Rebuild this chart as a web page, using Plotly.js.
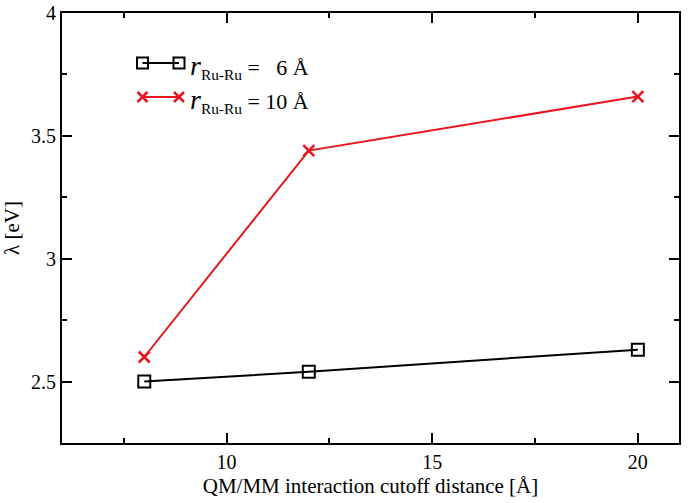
<!DOCTYPE html>
<html><head><meta charset="utf-8">
<script src="https://cdn.plot.ly/plotly-3.0.1.min.js"></script>
<style>body{margin:0;background:#fff}#plot{width:690px;height:503px}</style>
</head><body><div id="plot"></div>
<script>
const cutoff = [8, 12, 20];
const lambda6 = [2.50, 2.54, 2.63];
const lambda10 = [2.60, 3.44, 3.66];
const name6 = '<i><span style="font-size:28px">r</span></i><sub>Ru-Ru</sub> =   6 Å';
const name10 = '<i><span style="font-size:28px">r</span></i><sub>Ru-Ru</sub> = 10 Å';
const xTickVals = [10, 15, 20];
const yTickVals = [2.5, 3, 3.5, 4];

const black = '#000', red = '#e8141e';
const fam = 'Liberation Serif, Times New Roman, serif';
const font = {family: fam, size: 20, color: '#000'};

// plot-area geometry (px) for legend drawing
const M = {l: 62, r: 11, t: 13, b: 60};
const PW = 690 - M.l - M.r, PH = 503 - M.t - M.b;
const px = v => (v - M.l) / PW;
const py = v => (503 - M.b - v) / PH;

const traces = [
  {x: cutoff, y: lambda6, name: name6, mode: 'lines+markers', showlegend: false,
   line: {color: black, width: 2},
   marker: {symbol: 'square-open', size: 12, color: black, line: {width: 2, color: black}}},
  {x: cutoff, y: lambda10, name: name10, mode: 'lines+markers', showlegend: false,
   line: {color: red, width: 2},
   marker: {symbol: 'x-thin-open', size: 11, color: red, line: {width: 2.5, color: red}}}
];

// custom legend (markers at both ends of the sample line, as in the reference)
const rows = [
  {y: 63, color: black, sym: 'square', text: name6},
  {y: 97, color: red, sym: 'x', text: name10}
];
const xa = 142.5, xb = 179, hs = 5.5;
const shapes = [], annotations = [];
rows.forEach(r => {
  shapes.push({type: 'line', xref: 'paper', yref: 'paper', x0: px(xa), x1: px(xb), y0: py(r.y), y1: py(r.y),
    line: {color: r.color, width: 2}});
  [xa, xb].forEach(cx => {
    if (r.sym === 'square') {
      shapes.push({type: 'rect', xref: 'paper', yref: 'paper', x0: px(cx - hs), x1: px(cx + hs),
        y0: py(r.y + hs), y1: py(r.y - hs), line: {color: r.color, width: 2}});
    } else {
      const h = 5;
      shapes.push({type: 'line', xref: 'paper', yref: 'paper', x0: px(cx - h), x1: px(cx + h),
        y0: py(r.y - h), y1: py(r.y + h), line: {color: r.color, width: 2.5}});
      shapes.push({type: 'line', xref: 'paper', yref: 'paper', x0: px(cx - h), x1: px(cx + h),
        y0: py(r.y + h), y1: py(r.y - h), line: {color: r.color, width: 2.5}});
    }
  });
  annotations.push({xref: 'paper', yref: 'paper', x: px(188), y: py(r.y + 3), xanchor: 'left', yanchor: 'middle',
    text: r.text, showarrow: false, font: {family: fam, size: 22, color: '#000'}});
});

const axisCommon = {showgrid: false, zeroline: false, showline: true, linecolor: '#000', linewidth: 2,
  mirror: 'allticks', ticks: 'inside', ticklen: 10, tickwidth: 2, tickcolor: '#000', tickfont: font};

const layout = {
  width: 690, height: 503,
  margin: M,
  paper_bgcolor: '#fff', plot_bgcolor: '#fff',
  font: font,
  showlegend: false,
  shapes: shapes,
  annotations: annotations,
  xaxis: Object.assign({}, axisCommon, {range: [6, 21], tickvals: xTickVals,
    minor: {dtick: 2.5, ticks: 'inside', ticklen: 5, tickwidth: 2, tickcolor: '#000'},
    title: {text: 'QM/MM interaction cutoff distance [Å]', font: {family: fam, size: 21, color: '#000'}, standoff: 6}}),
  yaxis: Object.assign({}, axisCommon, {range: [2.25, 4], tickvals: yTickVals,
    minor: {dtick: 0.25, ticks: 'inside', ticklen: 5, tickwidth: 2, tickcolor: '#000'},
    title: {text: 'λ [eV]', font: {family: fam, size: 21, color: '#000'}, standoff: 10}})
};

Plotly.newPlot('plot', traces, layout, {displayModeBar: false, staticPlot: true});
</script>
</body></html>
